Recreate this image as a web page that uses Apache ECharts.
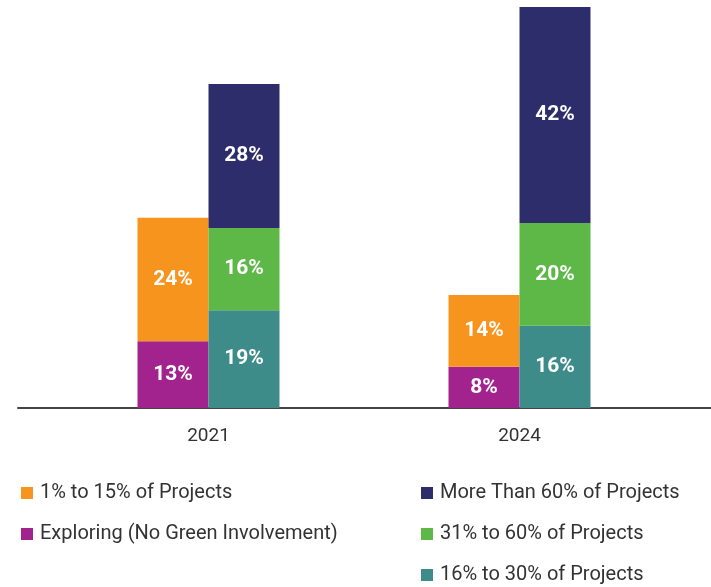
<!DOCTYPE html>
<html>
<head>
<meta charset="utf-8">
<script src="https://cdn.jsdelivr.net/npm/echarts@6/dist/echarts.min.js"></script>
<style>
  html, body { margin: 0; padding: 0; background: #fff; }
  #chart { width: 711px; height: 587px; }
</style>
</head>
<body>
<div id="chart"></div>
<script>
const years = ['2021', '2024'];

// stack "low": exploring at the bottom, 1-15% on top
const exploring = [13, 8];
const low = [24, 14];
// stack "high": 16-30% bottom, 31-60% middle, >60% top
const mid = [19, 16];
const upper = [16, 20];
const top60 = [28, 42];

const names = {
    low: '1% to 15% of Projects',
    exploring: 'Exploring (No Green Involvement)',
    top60: 'More Than 60% of Projects',
    upper: '31% to 60% of Projects',
    mid: '16% to 30% of Projects'
};

const colors = {
    low: '#F7941D',
    exploring: '#A3238E',
    top60: '#2E2D6B',
    upper: '#5DB847',
    mid: '#3D8C8A'
};

function bar(key, data, stack) {
    return {
        name: names[key],
        type: 'bar',
        stack: stack,
        data: data,
        barWidth: 71,
        barGap: '0%',
        itemStyle: { color: colors[key] },
        label: {
            show: true,
            position: 'inside',
            formatter: '{c}%',
            color: '#fff',
            fontFamily: 'Roboto',
            fontWeight: 'bold',
            fontSize: 21
        }
    };
}

function legendAt(left, data) {
    return {
        orient: 'vertical',
        left: left,
        top: 478,
        height: 120,
        itemWidth: 12,
        itemHeight: 12,
        itemGap: 21,
        icon: 'rect',
        data: data,
        textStyle: {
            color: '#333',
            fontFamily: 'Roboto',
            fontSize: 20,
            lineHeight: 20,
            padding: [0, 0, 0, 2]
        }
    };
}

const chart = echarts.init(document.getElementById('chart'));
chart.setOption({
    animation: false,
    grid: [
        { left: 53, right: 36, top: 7, bottom: 179 },
        { left: 18, right: 0, top: 7, bottom: 179 }
    ],
    xAxis: [{
        type: 'category',
        data: years,
        gridIndex: 0,
        axisLine: { show: false },
        axisTick: { show: false },
        axisLabel: {
            color: '#333',
            fontFamily: 'Roboto',
            fontSize: 19,
            margin: 19
        }
    }, {
        type: 'value',
        gridIndex: 1,
        axisLine: { show: true, onZero: false, lineStyle: { color: '#444', width: 2 } },
        axisTick: { show: false },
        axisLabel: { show: false },
        splitLine: { show: false }
    }],
    yAxis: [{
        type: 'value',
        gridIndex: 0,
        min: 0,
        max: 78,
        show: false
    }, {
        type: 'value',
        gridIndex: 1,
        show: false
    }],
    legend: [
        legendAt(16, [names.low, names.exploring]),
        legendAt(416, [names.top60, names.upper, names.mid])
    ],
    series: [
        bar('exploring', exploring, 'a'),
        bar('low', low, 'a'),
        bar('mid', mid, 'b'),
        bar('upper', upper, 'b'),
        bar('top60', top60, 'b')
    ]
});
</script>
</body>
</html>
